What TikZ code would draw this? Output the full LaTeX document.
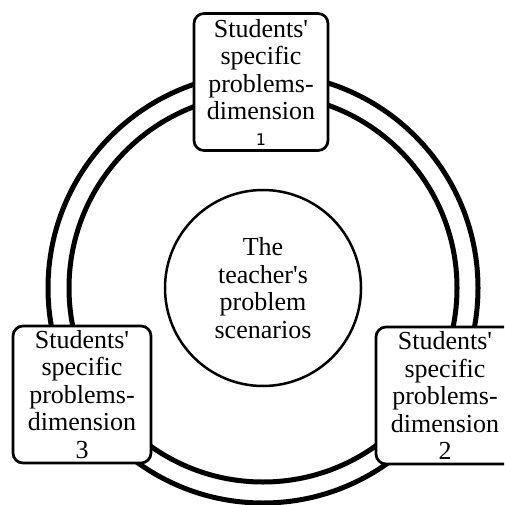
\documentclass[tikz,border=0pt]{standalone}
\usepackage{fontspec}
\setmainfont{Liberation Serif}
\newfontfamily\numfont{DejaVu Sans}
\usetikzlibrary{positioning}

\newcommand{\q}{\textquotesingle}

\tikzset{
  ringline/.style={line width=5pt},
  hubcircle/.style={draw, circle, line width=2.5pt, minimum size=196pt, inner sep=0pt, align=center},
  dimbox/.style={draw, fill=white, line width=2.7pt, rounded corners=10pt, minimum width=138pt, minimum height=137pt, inner sep=0pt, align=center}
}

\begin{document}
\begin{tikzpicture}[x=1pt, y=-1pt, font=\fontsize{26}{27.5}\selectfont]
  % Page frame
  \useasboundingbox (0,0) rectangle (504,505);
  \clip (0,0) rectangle (504,505);

  % Double ring
  \coordinate (C) at (263,288);
  \draw[ringline] (C) circle (215pt);
  \draw[ringline] (C) circle (194pt);

  % Centre
  \node[hubcircle] (hub) at (C) {The\\teacher\q s\\problem\\scenarios};

  % Dimensions
  \node[dimbox, minimum width=134pt] (dim1) at (261,82) {Students\q\\specific\\problems-\\dimension\\[-2pt]{\numfont\fontsize{16}{18}\selectfont 1}};
  \node[dimbox] (dim2) at (445,395.5) {Students\q\\specific\\problems-\\dimension\\2};
  \node[dimbox] (dim3) at (82,394.5) {Students\q\\specific\\problems-\\dimension\\3};
\end{tikzpicture}
\end{document}
